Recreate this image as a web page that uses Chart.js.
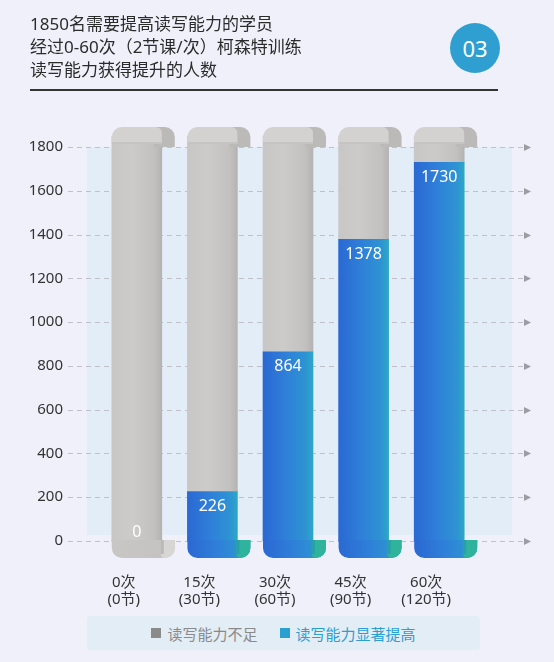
<!DOCTYPE html>
<html>
<head>
<meta charset="utf-8">
<script src="https://cdn.jsdelivr.net/npm/chart.js@4"></script>
<style>
  body { margin: 0; background: #eff0f9; font-family: "Noto Sans", "Noto Sans CJK SC", sans-serif; }
  #wrap { position: relative; width: 554px; height: 662px; overflow: hidden; }
  #chart { position: absolute; left: 0; top: 0; }
  .title { position: absolute; left: 30px; top: 12px; font-size: 17px; line-height: 23px; color: #2b2b2b; }
  .rule { position: absolute; left: 30px; top: 89px; width: 468px; height: 2px; background: #333; }
  .badge { position: absolute; left: 450px; top: 23px; width: 50px; height: 50px; border-radius: 50%;
           background: #2e9fd0; color: #fff; font-size: 22px; line-height: 50px; text-align: center; }
  .legend { position: absolute; left: 87px; top: 616px; width: 393px; height: 34px; background: #e2edf6;
            border-radius: 4px; display: flex; align-items: center; justify-content: center; font-size: 15px; }
  .legend span.sq { display: inline-block; width: 10px; height: 10px; margin-right: 6px; }
</style>
</head>
<body>
<div id="wrap">
  <canvas id="chart" width="554" height="662"></canvas>
  <div class="title">1850名需要提高读写能力的学员<br>经过0-60次（2节课/次）柯森特训练<br>读写能力获得提升的人数</div>
  <div class="rule"></div>
  <div class="badge">03</div>
  <div class="legend">
    <span class="sq" style="background:#8a8a8a"></span><span style="color:#8a8a8a;margin-right:22px">读写能力不足</span>
    <span class="sq" style="background:#2a9fd2"></span><span style="color:#2a9fd2">读写能力显著提高</span>
  </div>
</div>
<script>
const categories = [["0次", "(0节)"], ["15次", "(30节)"], ["30次", "(60节)"], ["45次", "(90节)"], ["60次", "(120节)"]];
const totalStudents = 1850;
const improved = [0, 226, 864, 1378, 1730];
const notImproved = improved.map(v => totalStudents - v);
const yTicks = [0, 200, 400, 600, 800, 1000, 1200, 1400, 1600, 1800];

const barW = 50;

function barGradient(c, stops, fallback) {
  const ch = c.chart;
  const x = ch.scales && ch.scales.x;
  if (!ch.chartArea || !x) return fallback;
  const cx = x.getPixelForValue(c.dataIndex);
  const g = ch.ctx.createLinearGradient(cx - barW / 2, 0, cx + barW / 2, 0);
  stops.forEach(([p, col]) => g.addColorStop(p, col));
  return g;
}
const blueStops = [[0, "#2b68d3"], [0.45, "#2f7fd9"], [0.85, "#2e93d3"], [1, "#2ba8c6"]];
const grayStops = [[0, "#c9c7c6"], [0.4, "#cdcbca"], [0.85, "#c3c1c0"], [1, "#b5b3b2"]];

function roundRect(ctx, x, y, w, h, r) {
  ctx.beginPath();
  ctx.roundRect(x, y, w, h, r);
  ctx.fill();
}

// light panel + dashed grid with arrow heads
const backdrop = {
  id: "backdrop",
  beforeDatasetsDraw(chart) {
    const { ctx, chartArea: a, scales: { y } } = chart;
    ctx.save();
    ctx.fillStyle = "#e2edf7";
    const pTop = y.getPixelForValue(1800);
    ctx.fillRect(a.left - 12, pTop, a.right + 35 - (a.left - 12), y.getPixelForValue(0) - 6 - pTop);
    ctx.strokeStyle = "#c0c0c8";
    ctx.lineWidth = 1;
    ctx.setLineDash([5, 4]);
    yTicks.forEach(v => {
      const py = Math.round(y.getPixelForValue(v)) + 0.5;
      ctx.beginPath();
      ctx.moveTo(a.left - 31, py);
      ctx.lineTo(a.right + 46, py);
      ctx.stroke();
      ctx.fillStyle = "#9c9ca4";
      ctx.beginPath();
      ctx.moveTo(a.right + 47, py - 3.5);
      ctx.lineTo(a.right + 54, py);
      ctx.lineTo(a.right + 47, py + 3.5);
      ctx.closePath();
      ctx.fill();
    });
    ctx.restore();
  }
};

// scroll caps on top and bottom of each bar, value labels
const scrolls = {
  id: "scrolls",
  afterDatasetsDraw(chart) {
    const { ctx } = chart;
    const blue = chart.getDatasetMeta(0).data;
    const gray = chart.getDatasetMeta(1).data;
    ctx.save();
    gray.forEach((g, i) => {
      const left = g.x - barW / 2, right = g.x + barW / 2;
      const top = g.y;
      // top curl
      ctx.fillStyle = "#bcbab9";
      roundRect(ctx, right - 8, top - 9, 21, 20, [0, 10, 0, 0]);
      ctx.fillStyle = "#d4d2d1";
      roundRect(ctx, left, top - 9, barW, 17, [10, 6, 0, 0]);
      ctx.fillStyle = "#c6c4c3";
      ctx.fillRect(left, top + 6, barW, 2);

      // bottom curl
      const b = blue[i];
      const base = b.base;
      const isBlue = improved[i] > 0;
      const gb = ctx.createLinearGradient(left, 0, right + 13, 0);
      (isBlue ? [[0, "#2b68d3"], [0.5, "#2f80d9"], [1, "#2b9fcc"]] : [[0, "#c9c7c6"], [1, "#c4c2c1"]])
        .forEach(([p, c]) => gb.addColorStop(p, c));
      ctx.fillStyle = gb;
      roundRect(ctx, left, base - 1, barW + 13, 18, [0, 0, 10, 10]);
      ctx.fillStyle = isBlue ? "#2fb39c" : "#d8d6d5";
      roundRect(ctx, right - 1, base - 1, 14, 18, [0, 0, 10, 4]);
      ctx.fillStyle = isBlue ? "#27a0a8" : "#bbb9b8";
      ctx.fillRect(right - 1, base - 1, 3, 14);

      // value label
      ctx.fillStyle = "#ffffff";
      ctx.font = "16px 'Noto Sans', sans-serif";
      ctx.textAlign = "center";
      ctx.textBaseline = "middle";
      const ly = improved[i] > 0 ? b.y + 15 : base - 9;
      ctx.fillText(String(improved[i]), b.x, ly);
    });
    ctx.restore();
  }
};

new Chart(document.getElementById("chart"), {
  type: "bar",
  data: {
    labels: categories,
    datasets: [
      {
        label: "读写能力显著提高",
        data: improved,
        backgroundColor: c => barGradient(c, blueStops, "#2f80d9"),
        barThickness: barW,
        clip: false
      },
      {
        label: "读写能力不足",
        data: notImproved,
        backgroundColor: c => barGradient(c, grayStops, "#c9c7c6"),
        barThickness: barW,
        clip: false
      }
    ]
  },
  options: {
    responsive: false,
    animation: false,
    layout: { padding: { top: 147, right: 77, left: 0, bottom: 0 } },
    plugins: { legend: { display: false }, tooltip: { enabled: false } },
    scales: {
      x: {
        stacked: true,
        grid: { display: false, drawTicks: false },
        border: { display: false },
        ticks: { color: "#333", font: { size: 15, family: "'Noto Sans', 'Noto Sans CJK SC'", lineHeight: 1.15 }, padding: 33, labelOffset: -13, maxRotation: 0 },
        afterFit: s => { s.height = 121; }
      },
      y: {
        stacked: true,
        min: 0,
        max: 1800,
        grid: { display: false, drawTicks: false },
        border: { display: false },
        ticks: { stepSize: 200, color: "#333", font: { size: 15, family: "'Noto Sans', sans-serif" }, padding: 36, callback: v => String(v) },
        afterFit: s => { s.width = 99; }
      }
    }
  },
  plugins: [backdrop, scrolls]
});
</script>
</body>
</html>
